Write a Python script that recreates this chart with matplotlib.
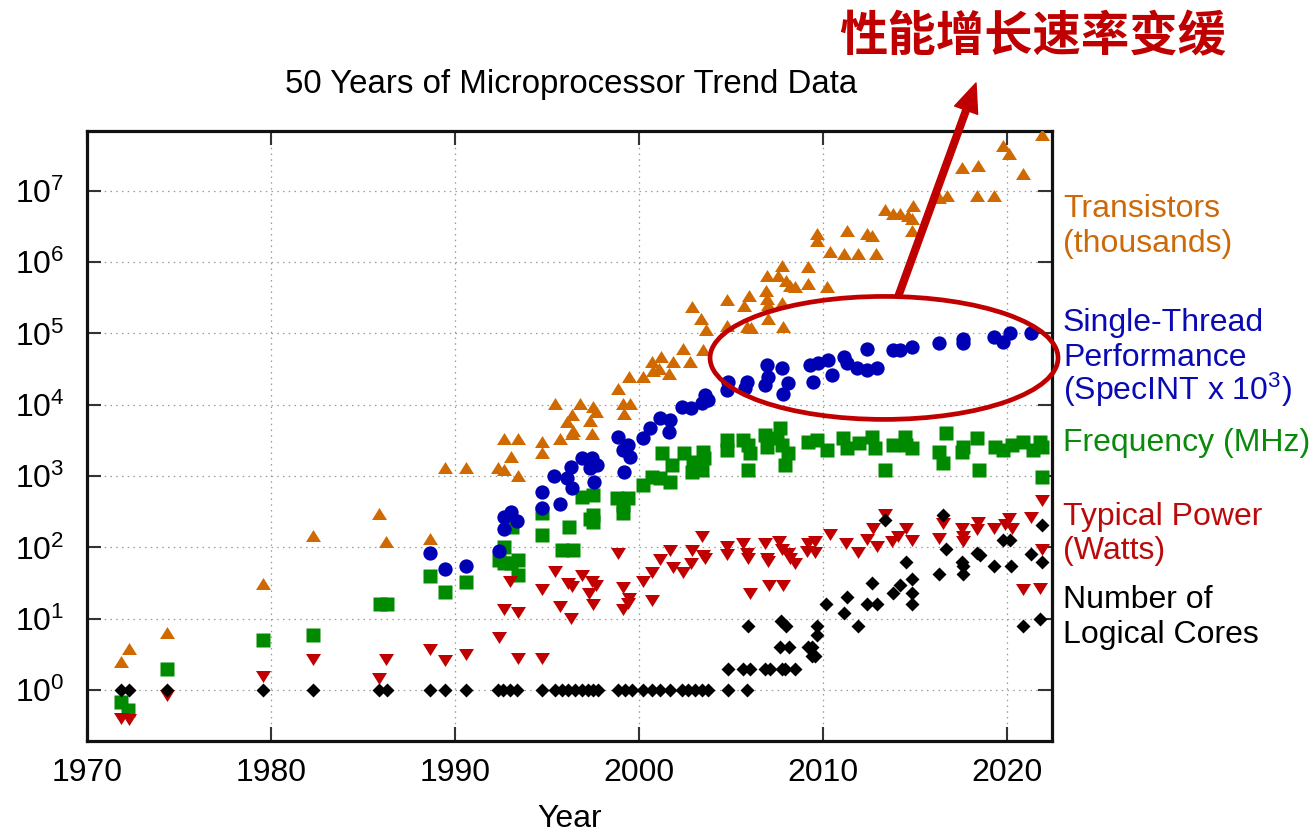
import matplotlib
matplotlib.use("Agg")
import matplotlib.pyplot as plt
import numpy as np
from matplotlib.patches import Ellipse, FancyArrowPatch
from matplotlib.path import Path
from matplotlib.ticker import NullLocator, FixedLocator, LogFormatterSciNotation

plt.rcParams['font.family'] = ['Liberation Sans', 'DejaVu Sans']
plt.rcParams['mathtext.fontset'] = 'custom'
plt.rcParams['mathtext.rm'] = 'Liberation Sans'
plt.rcParams['mathtext.it'] = 'Liberation Sans:italic'
plt.rcParams['mathtext.bf'] = 'Liberation Sans:bold'
plt.rcParams['mathtext.default'] = 'regular'

# ---------------- data ----------------
trans_year = [1971.85, 1972.3, 1974.35, 1979.56, 1982.3, 1985.9, 1986.27, 1988.66, 1989.47, 1990.6,
              1992.37, 1992.7, 1993.42, 1993.04, 1992.7, 1993.42, 1994.73, 1994.73, 1995.72, 1995.45,
              1996.36, 1996.08, 1996.41, 1996.36, 1996.81, 1997.35, 1997.53, 1997.68, 1997.44, 1998.9,
              1999.16, 1999.5, 1999.2, 1999.49, 2000.21, 2000.7, 2001.21, 2000.8, 2001.12, 2001.66,
              2001.85, 2002.39, 2002.79, 2002.88, 2003.39, 2003.66, 2003.48, 2004.82, 2004.78, 2005.72,
              2006.01, 2005.87, 2006.08, 2006.92, 2006.95, 2006.95, 2007.04, 2007.04, 2007.59, 2007.77,
              2007.77, 2007.86, 2008.0, 2008.22, 2008.49, 2009.22, 2009.22, 2009.67, 2009.67, 2010.21,
              2010.4, 2011.16, 2011.34, 2011.94, 2012.39, 2012.66, 2012.9, 2013.38, 2013.8, 2014.2,
              2014.65, 2014.89, 2014.83, 2014.83, 2016.34, 2016.74, 2017.55, 2018.46, 2018.4, 2019.31,
              2019.78, 2020.14, 2020.9, 2021.9]
trans_val = [2.37, 3.6, 6.2, 29.6, 141, 284, 114, 126, 1260, 1260,
             1260, 1180, 980, 1780, 3200, 3200, 2880, 2020, 3200, 9930,
             6960, 5500, 4200, 3770, 9930, 5800, 8900, 7760, 3770, 16100,
             9930, 9930, 7200, 23500, 23500, 38100, 44800, 29100, 30700, 26200,
             38100, 58600, 38900, 230000, 154000, 109000, 56700, 286000, 125000, 238000,
             321000, 118000, 114000, 386000, 627000, 295000, 243000, 155000, 627000, 865000,
             259000, 118000, 533000, 454000, 430000, 820000, 479000, 2.41e6, 1.94e6, 430000,
             1.33e6, 1.26e6, 2.68e6, 1.26e6, 2.41e6, 2.28e6, 1.26e6, 5.22e6, 4.59e6, 4.59e6,
             4.35e6, 5.89e6, 3.91e6, 2.68e6, 7.62e6, 8.3e6, 2.01e7, 2.19e7, 8.3e6, 8.3e6,
             4.17e7, 3.19e7, 1.67e7, 5.9e7]

perf_year = [1988.66, 1989.47, 1990.61, 1992.4, 1992.7, 1993.04, 1992.68, 1993.4, 1994.76, 1994.76,
             1995.72, 1995.41, 1996.08, 1996.32, 1996.36, 1996.9, 1997.44, 1997.35, 1997.72, 1997.59,
             1998.89, 1999.16, 1999.44, 1999.53, 1999.2, 2000.21, 2000.61, 2001.16, 2001.7, 2001.66,
             2002.34, 2002.82, 2003.42, 2003.78, 2003.6, 2004.87, 2004.78, 2005.87, 2005.78, 2006.95,
             2007.04, 2006.86, 2007.77, 2008.13, 2007.82, 2009.31, 2009.76, 2010.3, 2009.49, 2010.52,
             2011.16, 2011.3, 2011.84, 2012.39, 2012.93, 2012.39, 2013.8, 2014.2, 2014.83, 2016.34,
             2017.61, 2017.61, 2019.31, 2019.78, 2020.18, 2021.3]
perf_val = [84, 50, 55, 89, 181, 316, 269, 237, 604, 353,
            406, 1013, 929, 1355, 673, 1774, 1774, 1285, 1430, 836,
            3570, 2323, 2730, 1870, 1153, 3380, 4680, 6460, 6110, 4200,
            9400, 8900, 10500, 11700, 13700, 21100, 16200, 21100, 17000, 36100,
            24800, 19000, 32500, 20000, 14000, 36100, 38200, 42600, 21100, 26200,
            47300, 38200, 32500, 30800, 32500, 60000, 58700, 58700, 65400, 72800,
            83000, 74500, 90400, 76700, 100000, 103000]

freq_year = [1971.85, 1972.26, 1974.35, 1979.56, 1982.3, 1985.94, 1986.3, 1988.66, 1989.47, 1990.6,
             1992.41, 1992.7, 1992.7, 1993.1, 1993.42, 1993.42, 1993.06, 1994.73, 1994.73, 1996.23,
             1995.81, 1996.45, 1996.9, 1997.53, 1997.53, 1997.53, 1997.35, 1998.8, 1999.16, 1999.44,
             1999.13, 2000.25, 2000.7, 2001.25, 2001.16, 2001.7, 2001.79, 2002.46, 2002.88, 2002.97,
             2003.48, 2003.55, 2003.42, 2004.78, 2004.78, 2005.68, 2005.96, 2005.96, 2006.05, 2006.86,
             2006.95, 2007.68, 2007.77, 2007.95, 2008.13, 2007.5, 2009.22, 2009.67, 2010.21, 2011.12,
             2011.3, 2011.99, 2012.66, 2012.84, 2013.38, 2013.8, 2014.47, 2014.83, 2014.53, 2016.7,
             2016.34, 2016.52, 2017.55, 2017.64, 2018.4, 2018.51, 2019.36, 2019.81, 2020.27, 2020.87,
             2021.45, 2021.81, 2021.9, 2021.9]
freq_val = [0.69, 0.53, 2.0, 5.0, 6.0, 16, 16, 40, 24, 33,
            66.5, 102, 60, 195, 66.5, 41, 60, 300, 149, 195,
            92, 92, 514, 543, 284, 229, 251, 488, 300, 488,
            393, 750, 982, 2080, 929, 836, 1430, 2080, 1153, 1590,
            2200, 1774, 1217, 2320, 3200, 3200, 2730, 1217, 2080, 3770,
            2580, 4680, 2730, 1430, 2080, 3380, 3040, 3200, 2320, 3380,
            2450, 2880, 3570, 2450, 1217, 2730, 3570, 2450, 2730, 3980,
            2200, 1510, 2200, 2580, 3380, 1217, 2580, 2320, 2730, 3040,
            2320, 3040, 2580, 982]

power_year = [1971.85, 1972.3, 1974.35, 1979.56, 1982.3, 1985.9, 1986.27, 1988.66, 1989.47, 1990.6,
              1992.41, 1992.7, 1993.42, 1993.0, 1993.42, 1994.73, 1994.73, 1995.45, 1995.72, 1996.17,
              1996.36, 1996.32, 1996.9, 1997.44, 1997.68, 1997.32, 1997.53, 1998.89, 1999.16, 1999.49,
              1999.44, 1999.16, 2000.21, 2000.7, 2000.7, 2001.16, 2001.7, 2001.85, 2002.39, 2002.82,
              2002.88, 2003.42, 2003.51, 2003.6, 2004.78, 2004.78, 2005.68, 2005.96, 2006.05, 2005.87,
              2006.86, 2006.95, 2007.04, 2007.1, 2007.86, 2007.64, 2007.77, 2008.13, 2008.22, 2008.49,
              2009.22, 2009.58, 2009.13, 2009.58, 2010.4, 2011.26, 2011.94, 2012.39, 2012.71, 2012.93,
              2013.38, 2013.75, 2014.11, 2014.53, 2014.83, 2016.34, 2016.52, 2017.55, 2017.64, 2017.61,
              2018.4, 2018.46, 2019.31, 2019.9, 2020.14, 2020.27, 2021.3, 2021.9, 2020.9, 2021.81,
              2021.9]
power_val = [0.42, 0.40, 0.88, 1.6, 2.8, 1.5, 2.8, 3.84, 2.69, 3.34,
             5.7, 14, 13, 34.8, 2.87, 2.87, 27, 49, 15.6, 33,
             29.7, 10.7, 43, 35, 31, 24, 16.4, 87, 28.7, 20.4,
             17.3, 14, 35, 18.9, 46.7, 70, 95, 55, 46.7, 61.7,
             95, 149, 82, 74, 108, 84, 120, 74, 24, 87,
             120, 74, 66.5, 30.6, 30.6, 127, 97, 87, 74, 63,
             120, 127, 92, 90, 161, 120, 90, 134, 195, 108,
             300, 127, 149, 191, 130, 141, 229, 195, 149, 127,
             185, 237, 195, 217, 269, 191, 275, 472, 26.7, 28,
             97]

cores_year = [1971.85, 1972.3, 1974.35, 1979.6, 1982.3, 1985.9, 1986.3, 1988.66, 1989.47, 1990.61,
              1992.37, 1992.64, 1993.0, 1993.4, 1994.73, 1995.45, 1995.81, 1996.18, 1996.54, 1996.9,
              1997.26, 1997.53, 1997.8, 1998.89, 1999.26, 1999.62, 2000.25, 2000.7, 2001.16, 2001.7,
              2002.34, 2002.7, 2003.06, 2003.42, 2003.78, 2004.87, 2005.87,
              2004.87, 2005.68, 2006.05, 2006.86, 2007.13, 2007.77, 2007.95, 2008.49,
              2005.96, 2007.68, 2008.19, 2007.73, 2008.0, 2009.22, 2009.4, 2009.58, 2009.4, 2009.67,
              2009.67, 2010.18, 2011.16, 2011.3, 2011.94, 2012.39, 2012.93, 2012.7, 2013.8, 2014.2,
              2013.38, 2014.53, 2014.83, 2014.83, 2014.83, 2016.34, 2016.7, 2016.52, 2017.55, 2017.64,
              2017.61, 2018.4, 2018.55, 2019.31, 2019.81, 2020.18, 2020.22, 2021.3, 2021.9, 2021.9,
              2020.9, 2021.81]
cores_val = [1, 1, 1, 1, 1, 1, 1, 1, 1, 1,
             1, 1, 1, 1, 1, 1, 1, 1, 1, 1,
             1, 1, 1, 1, 1, 1, 1, 1, 1, 1,
             1, 1, 1, 1, 1, 1, 1,
             2, 2, 2, 2, 2, 2, 2, 2,
             8, 4, 4, 9.4, 8, 4, 3, 3, 4, 8,
             6, 16, 12, 20, 8, 16, 16, 32, 23, 30,
             240, 63, 36, 23, 16, 43, 95, 284, 63, 54,
             43, 84, 78, 55, 127, 127, 55, 81, 206, 63,
             8, 10]

year_ticks = [1970, 1980, 1990, 2000, 2010, 2020]
value_ticks = [1e0, 1e1, 1e2, 1e3, 1e4, 1e5, 1e6, 1e7]

series_labels = [
    (["Transistors", "(thousands)"], '#cc6a0a', [217, 251.5]),
    (["Single-Thread", "Performance", "(SpecINT x 10$^{3}$)"], '#0a0ab4', [331.5, 366.5, 400]),
    (["Frequency (MHz)"], '#0a8a0a', [451.5]),
    (["Typical Power", "(Watts)"], '#bb0a0a', [525, 558.5]),
    (["Number of", "Logical Cores"], '#000000', [608.5, 642.5]),
]

title_text = "50 Years of Microprocessor Trend Data"
note_text = "性能增长速率变缓"

# ---------------- figure ----------------
W, H = 1316, 835
fig = plt.figure(figsize=(W / 100, H / 100), dpi=100)
ax = fig.add_axes([86.7 / W, (H - 741) / H, (1052 - 86.7) / W, (741 - 131) / H])

c_tr = '#d06a00'
c_pf = '#0000b4'
c_fq = '#008a00'
c_pw = '#c00000'
c_co = '#000000'

up_tri = Path([(-1, -0.6), (1, -0.6), (0, 1.0), (-1, -0.6)],
              [Path.MOVETO, Path.LINETO, Path.LINETO, Path.CLOSEPOLY])
dn_tri = Path([(-1, 0.6), (1, 0.6), (0, -1.0), (-1, 0.6)],
              [Path.MOVETO, Path.LINETO, Path.LINETO, Path.CLOSEPOLY])

ax.plot(trans_year, trans_val, linestyle='none', marker=up_tri, ms=10.8,
        color=c_tr, mec='none', zorder=3)
ax.plot(freq_year, freq_val, linestyle='none', marker='s', ms=10.5,
        color=c_fq, mec='none', zorder=3)
ax.plot(perf_year, perf_val, linestyle='none', marker='o', ms=10.3,
        color=c_pf, mec='none', zorder=3)
ax.plot(power_year, power_val, linestyle='none', marker=dn_tri, ms=10.8,
        color=c_pw, mec='none', zorder=3)
ax.plot(cores_year, cores_val, linestyle='none', marker='D', ms=6.9,
        color=c_co, mec='none', zorder=3)

ax.set_yscale('log')
ax.set_xlim(1970, 2022.46)
ax.set_ylim(0.193, 6.9e7)
ax.set_xticks(year_ticks)
ax.set_xticklabels([str(y) for y in year_ticks])
ax.yaxis.set_major_locator(FixedLocator(value_ticks))
ax.yaxis.set_major_formatter(LogFormatterSciNotation(base=10))
ax.yaxis.set_minor_locator(NullLocator())

ax.tick_params(which='major', direction='in', length=10, width=1.5, color='#333333',
               top=True, right=True, labelsize=23)
ax.tick_params(axis='x', pad=12.5)
ax.tick_params(axis='y', pad=16)
for s in ax.spines.values():
    s.set_linewidth(2.3)
    s.set_color('#111111')

ax.grid(True, which='major', color='#9a9a9a', linewidth=0.9, linestyle=(0, (1.2, 3.4)))
ax.set_axisbelow(True)

ax.set_xlabel('Year', fontsize=23, labelpad=11.5)

fig.text(285 / W, 1 - 92.5 / H, title_text, fontsize=23.8, ha='left', va='baseline')

for lines, col, bases in series_labels:
    for ln, b in zip(lines, bases):
        fig.text(1063 / W, 1 - b / H, ln, fontsize=23, color=col, ha='left', va='baseline')

# annotation: ellipse + arrow + Chinese note
ell = Ellipse((0.826, 0.628), 0.3605, 0.2016, transform=ax.transAxes,
              fill=False, edgecolor='#c00000', linewidth=3.4, zorder=5, clip_on=False)
ax.add_patch(ell)

arr = FancyArrowPatch((898 / W, 1 - 297 / H), (976 / W, 1 - 83 / H),
                      transform=fig.transFigure,
                      arrowstyle='simple,head_length=1.3,head_width=1.1,tail_width=0.3',
                      mutation_scale=16, color='#c00000', shrinkA=0, shrinkB=0, zorder=6)
fig.add_artist(arr)

fig.text(839 / W, 1 - 37 / H, note_text, fontsize=34.8, fontweight='heavy', color='#c00000',
         ha='left', va='center', family=['Noto Sans CJK SC', 'DejaVu Sans'])

fig.savefig('out.png', dpi=100)
